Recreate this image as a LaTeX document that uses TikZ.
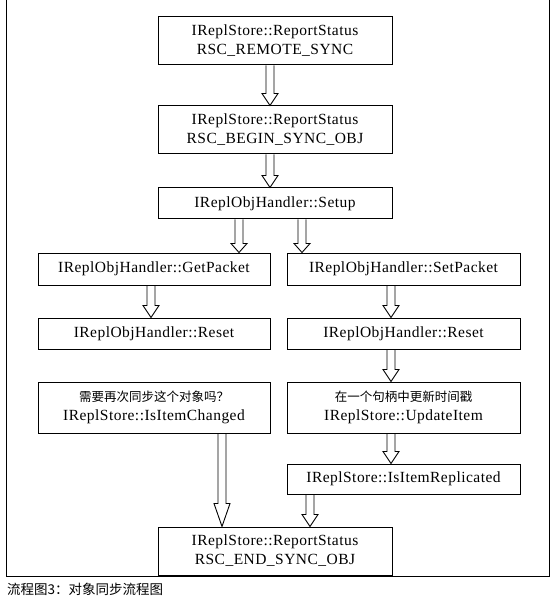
\documentclass[tikz,border=0pt]{standalone}
\usepackage{fontspec}
\setmainfont[LetterSpace=3]{Liberation Serif}
\newfontfamily\cjk{Noto Sans CJK SC}
\usetikzlibrary{positioning,calc}
\newcommand{\blockarr}[3][12pt]{%
  \coordinate (s) at #2;
  \coordinate (e) at (s |- #3);
  \draw[blk] ($(s)+(-4pt,0)$) -- ($(e)+(-4pt,#1)$) -- ($(e)+(-8pt,#1)$) -- (e)
    -- ($(e)+(8pt,#1)$) -- ($(e)+(4pt,#1)$) -- ($(s)+(4pt,0)$);}

\begin{document}
\begin{tikzpicture}[
  x=1pt, y=1pt,
  font=\fontsize{15.5}{19}\selectfont,
  m/.style={draw, line width=1pt, inner sep=0pt, minimum width=234pt, align=center},
  blk/.style={line width=0.9pt, line join=miter}
]
\useasboundingbox (0,0) rectangle (555,-609);
\draw[line width=1pt] (6,0) |- (549,-576) -- (549,0);
\node[m, minimum height=48pt] (rs) at (275,-41) {IReplStore::ReportStatus\\RSC\_REMOTE\_SYNC};
\node[m, minimum height=48pt, below=40pt of rs] (bso) {IReplStore::ReportStatus\\RSC\_BEGIN\_SYNC\_OBJ};
\node[m, minimum height=31pt, below=33pt of bso] (setup) {IReplObjHandler::Setup};
\node[m, minimum width=232pt, minimum height=32pt, below=33pt of setup, xshift=-121pt] (getp) {IReplObjHandler::GetPacket};
\node[m, minimum width=233pt, minimum height=32pt, below=33pt of setup, xshift=128.5pt] (setp) {IReplObjHandler::SetPacket};
\node[m, minimum width=232pt, minimum height=31pt, below=32pt of getp] (resl) {IReplObjHandler::Reset};
\node[m, minimum width=233pt, minimum height=31pt, below=32pt of setp] (resr) {IReplObjHandler::Reset};
\node[m, minimum width=232pt, minimum height=51pt, below=32pt of resl] (chk)
  {{\cjk\fontsize{12.5}{19}\selectfont 需要再次同步这个对象吗？}\\IReplStore::IsItemChanged};
\node[m, minimum width=233pt, minimum height=51pt, below=32pt of resr] (upd)
  {{\cjk\fontsize{12.5}{19}\selectfont 在一个句柄中更新时间戳}\\IReplStore::UpdateItem};
\node[m, minimum width=233pt, minimum height=30pt, below=30pt of upd] (repl) {IReplStore::IsItemReplicated};
\node[m, minimum height=48pt, below=32pt of repl, xshift=-128.5pt] (fin) {IReplStore::ReportStatus\\RSC\_END\_SYNC\_OBJ};
\blockarr{($(rs.south)+(-5pt,0)$)}{bso.north}
\blockarr{($(bso.south)+(-5pt,0)$)}{setup.north}
\blockarr[9pt]{($(setup.south)+(-36pt,0)$)}{getp.north}
\blockarr[9pt]{($(setup.south)+(27pt,0)$)}{setp.north}
\blockarr{($(getp.south)+(-3pt,0)$)}{resl.north}
\blockarr{($(setp.south)+(-12.5pt,0)$)}{resr.north}
\blockarr{($(resr.south)+(-12.5pt,0)$)}{upd.north}
\blockarr{($(upd.south)+(-12.5pt,0)$)}{repl.north}
\blockarr[23pt]{($(chk.south)+(68pt,0)$)}{fin.north}
\blockarr{($(repl.south)+(-93.5pt,0)$)}{fin.north}
\node[anchor=west, inner sep=0pt, font=\cjk\fontsize{13.5}{15}\selectfont] (cap) at (7,-589) {流程图3：对象同步流程图};
\end{tikzpicture}
\end{document}
